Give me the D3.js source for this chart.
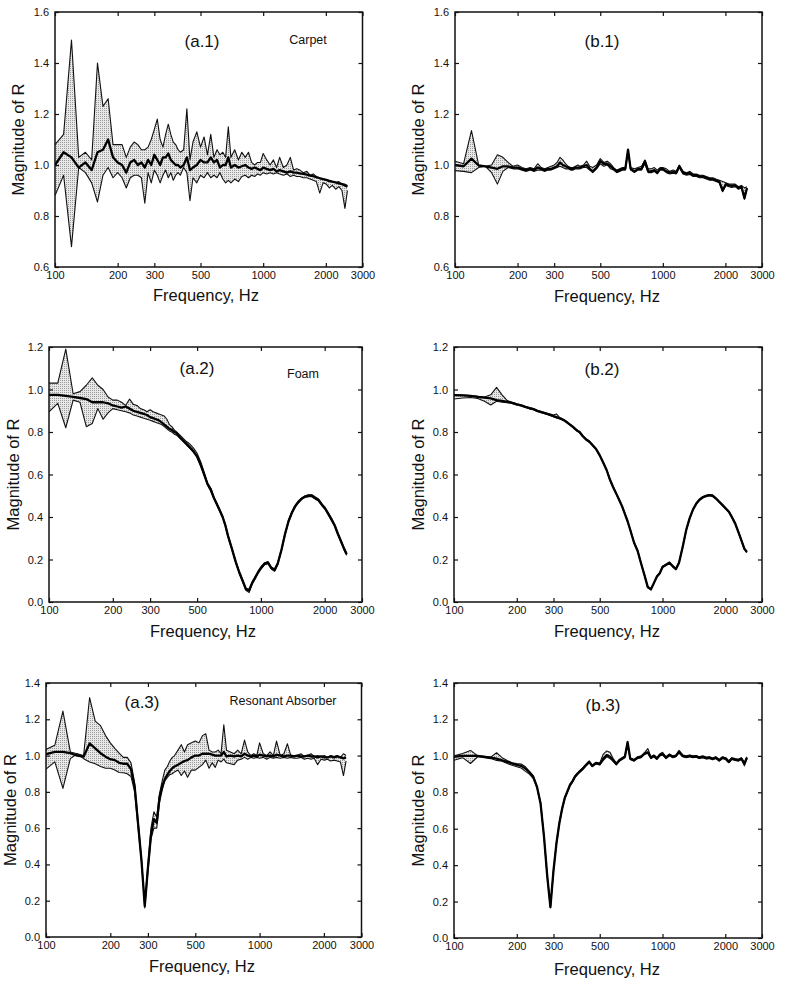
<!DOCTYPE html>
<html>
<head>
<meta charset="utf-8">
<script src="https://cdn.jsdelivr.net/npm/d3@7"></script>
<style>
  html, body { margin: 0; padding: 0; background: #ffffff; }
  svg { display: block; }
  text { font-family: "Liberation Sans", Arial, Helvetica, sans-serif; fill: #111; }
</style>
</head>
<body>
<svg id="chart" width="792" height="987"></svg>
<script>
// ---------------- DATA ----------------
const freq = [100,110,120,130,140,150,160,170,180,190,
  200,210,220,230,240,250,260,270,280,290,
  300,310,320,330,340,350,360,370,380,390,
  400,415,430,445,460,480,500,520,540,560,
  580,600,620,640,660,680,700,730,760,790,
  820,850,880,910,940,970,1000,1040,1080,1120,
  1160,1200,1250,1300,1350,1400,1450,1500,1560,1620,
  1680,1740,1800,1870,1940,2010,2080,2150,2230,2310,
  2390,2470,2540];

const xTickValues = [100, 200, 300, 500, 1000, 2000, 3000];
const yTicksRow1 = [0.6, 0.8, 1.0, 1.2, 1.4, 1.6];
const yTicksRow2 = [0.0, 0.2, 0.4, 0.6, 0.8, 1.0, 1.2];
const yTicksRow3 = [0.0, 0.2, 0.4, 0.6, 0.8, 1.0, 1.2, 1.4];

// (a.1) Carpet
const a1Upper = [1.08,1.12,1.49,1.03,1.05,1.02,1.40,1.23,1.26,1.08,
  1.08,1.08,1.03,1.07,1.09,1.08,1.06,1.06,1.07,1.10,
  1.14,1.18,1.10,1.07,1.12,1.16,1.12,1.09,1.08,1.06,
  1.05,1.06,1.22,1.02,1.09,1.13,1.07,1.11,1.04,1.12,
  1.03,1.06,1.04,1.05,1.03,1.15,1.03,1.06,1.02,1.05,
  1.03,1.05,1.01,1.00,1.01,1.01,1.045,1.02,1.00,1.02,
  0.99,1.03,0.99,1.00,1.03,0.98,0.985,0.98,0.97,0.975,
  0.96,0.965,0.955,0.95,0.945,0.94,0.935,0.935,0.93,0.935,
  0.925,0.925,0.92];
const a1Mean = [1.00,1.05,1.03,0.99,1.01,0.98,1.05,1.06,1.10,1.03,
  1.01,1.00,0.97,1.01,1.02,1.00,1.01,0.99,1.02,1.00,
  1.04,1.02,1.00,1.03,1.03,1.045,1.02,1.01,1.00,1.00,
  0.99,1.00,1.03,0.98,0.99,1.00,1.02,1.01,1.01,1.03,
  1.01,1.02,0.99,1.00,1.00,1.03,0.99,1.00,0.99,0.995,
  1.00,0.99,0.985,0.99,0.985,0.98,0.99,0.985,0.98,0.985,
  0.975,0.98,0.975,0.97,0.975,0.97,0.97,0.967,0.965,0.962,
  0.958,0.956,0.952,0.948,0.945,0.942,0.938,0.935,0.932,0.928,
  0.925,0.92,0.915];
const a1Lower = [0.88,0.96,0.68,0.99,0.97,0.93,0.855,0.96,0.99,0.95,
  0.97,0.95,0.91,0.95,0.96,0.96,0.95,0.85,0.97,0.93,
  0.98,0.96,0.93,0.96,0.98,0.95,0.97,0.94,0.96,0.97,
  0.96,0.99,0.97,0.86,0.95,0.93,0.96,0.95,0.97,0.95,
  0.96,0.95,0.97,0.945,0.93,0.94,0.93,0.945,0.935,0.955,
  0.96,0.95,0.96,0.955,0.965,0.96,0.97,0.965,0.97,0.965,
  0.97,0.965,0.96,0.965,0.955,0.96,0.955,0.955,0.95,0.95,
  0.945,0.94,0.935,0.89,0.93,0.925,0.91,0.92,0.905,0.915,
  0.90,0.83,0.90];

// (b.1)
const b1Upper = [1.015,1.005,1.135,1.00,0.995,1.00,1.04,1.03,1.01,0.995,
  1.00,0.99,0.985,0.99,0.985,1.005,0.99,0.985,0.99,0.995,
  1.00,1.01,1.03,1.02,1.005,0.995,0.99,0.99,0.995,1.00,
  0.995,1.00,1.015,0.995,0.99,1.00,1.025,1.01,1.015,1.005,
  0.99,0.98,0.985,0.99,0.99,1.06,0.99,0.985,0.99,0.995,
  1.02,0.985,0.985,0.99,0.98,0.99,0.99,0.985,0.975,0.98,
  0.975,1.00,0.975,0.97,0.975,0.965,0.965,0.96,0.96,0.955,
  0.95,0.95,0.945,0.94,0.935,0.93,0.925,0.925,0.925,0.915,
  0.92,0.91,0.915];
const b1Mean = [1.00,0.995,1.025,0.998,0.995,0.99,0.985,0.995,0.995,0.99,
  0.99,0.985,0.98,0.985,0.98,0.99,0.985,0.98,0.985,0.985,
  0.99,0.995,1.01,1.00,0.995,0.99,0.985,0.985,0.99,0.99,
  0.99,0.995,1.00,0.985,0.975,0.99,1.015,1.005,1.005,0.995,
  0.985,0.975,0.98,0.985,0.985,1.06,0.985,0.975,0.985,0.985,
  1.015,0.975,0.975,0.98,0.97,0.985,0.985,0.975,0.97,0.972,
  0.97,0.995,0.97,0.965,0.968,0.96,0.96,0.955,0.955,0.95,
  0.945,0.945,0.94,0.935,0.90,0.925,0.92,0.918,0.92,0.91,
  0.915,0.87,0.91];
const b1Lower = [0.978,0.975,0.97,0.99,0.995,0.97,0.925,0.975,0.99,0.985,
  0.985,0.98,0.975,0.98,0.975,0.98,0.98,0.975,0.98,0.98,
  0.985,0.99,0.995,0.99,0.985,0.985,0.98,0.98,0.985,0.985,
  0.985,0.99,0.99,0.98,0.97,0.985,1.005,0.995,1.00,0.985,
  0.98,0.97,0.975,0.98,0.98,1.05,0.98,0.97,0.98,0.98,
  1.005,0.97,0.97,0.975,0.965,0.98,0.98,0.97,0.965,0.968,
  0.965,0.99,0.965,0.96,0.963,0.955,0.955,0.95,0.95,0.945,
  0.94,0.94,0.935,0.93,0.895,0.92,0.915,0.912,0.915,0.905,
  0.91,0.865,0.905];

// (a.2) Foam
const a2Upper = [1.03,1.03,1.19,0.98,0.99,1.02,1.055,1.02,1.00,0.965,
  0.95,0.95,0.94,0.925,0.955,0.93,0.925,0.91,0.905,0.895,
  0.905,0.895,0.89,0.885,0.88,0.875,0.86,0.835,0.825,0.81,
  0.80,0.785,0.77,0.755,0.745,0.725,0.70,0.66,0.61,0.56,
  0.535,0.495,0.465,0.435,0.405,0.365,0.315,0.255,0.195,0.145,
  0.105,0.065,0.06,0.095,0.12,0.145,0.165,0.185,0.19,0.165,
  0.155,0.185,0.25,0.325,0.385,0.425,0.455,0.475,0.49,0.50,
  0.505,0.505,0.495,0.485,0.462,0.445,0.42,0.395,0.365,0.325,
  0.29,0.255,0.23];
const a2Mean = [0.975,0.975,0.97,0.965,0.96,0.955,0.94,0.94,0.94,0.935,
  0.925,0.92,0.915,0.92,0.91,0.90,0.895,0.89,0.885,0.88,
  0.87,0.865,0.86,0.855,0.845,0.835,0.825,0.815,0.81,0.80,
  0.795,0.775,0.76,0.745,0.73,0.71,0.685,0.645,0.60,0.555,
  0.53,0.49,0.46,0.43,0.40,0.36,0.31,0.25,0.19,0.14,
  0.10,0.06,0.055,0.09,0.115,0.14,0.16,0.18,0.185,0.16,
  0.15,0.18,0.245,0.32,0.38,0.42,0.45,0.47,0.487,0.497,
  0.50,0.50,0.49,0.48,0.458,0.44,0.415,0.39,0.36,0.32,
  0.285,0.25,0.225];
const a2Lower = [0.895,0.935,0.82,0.95,0.94,0.825,0.84,0.91,0.86,0.89,
  0.91,0.905,0.90,0.895,0.89,0.88,0.875,0.87,0.865,0.86,
  0.855,0.85,0.845,0.84,0.835,0.825,0.815,0.805,0.80,0.79,
  0.785,0.77,0.755,0.74,0.725,0.705,0.68,0.64,0.595,0.55,
  0.52,0.485,0.455,0.425,0.395,0.355,0.305,0.245,0.185,0.135,
  0.095,0.055,0.045,0.085,0.11,0.135,0.155,0.175,0.18,0.155,
  0.145,0.175,0.24,0.315,0.375,0.415,0.445,0.465,0.483,0.493,
  0.495,0.495,0.485,0.475,0.453,0.435,0.41,0.385,0.355,0.315,
  0.28,0.245,0.22];

// (b.2)
const b2Upper = [0.975,0.974,0.972,0.968,0.965,0.975,1.01,0.975,0.948,0.94,
  0.933,0.927,0.92,0.915,0.91,0.903,0.898,0.893,0.888,0.884,
  0.88,0.885,0.87,0.862,0.855,0.846,0.837,0.828,0.818,0.808,
  0.802,0.783,0.768,0.758,0.743,0.723,0.693,0.658,0.623,0.578,
  0.543,0.513,0.483,0.453,0.418,0.383,0.343,0.283,0.243,0.183,
  0.128,0.073,0.063,0.093,0.123,0.138,0.168,0.178,0.188,0.171,
  0.158,0.188,0.263,0.343,0.398,0.438,0.465,0.483,0.496,0.502,
  0.506,0.503,0.491,0.475,0.459,0.443,0.428,0.403,0.373,0.333,
  0.293,0.253,0.238];
const b2Mean = [0.974,0.972,0.97,0.965,0.962,0.958,0.95,0.946,0.942,0.937,
  0.93,0.925,0.918,0.912,0.908,0.90,0.895,0.89,0.885,0.88,
  0.875,0.87,0.865,0.86,0.853,0.844,0.835,0.826,0.816,0.806,
  0.80,0.78,0.765,0.755,0.74,0.72,0.69,0.655,0.62,0.575,
  0.54,0.51,0.48,0.45,0.415,0.38,0.34,0.28,0.24,0.18,
  0.125,0.07,0.06,0.09,0.12,0.135,0.165,0.175,0.185,0.168,
  0.155,0.185,0.26,0.34,0.395,0.435,0.462,0.48,0.493,0.499,
  0.503,0.50,0.488,0.472,0.456,0.44,0.425,0.40,0.37,0.33,
  0.29,0.25,0.235];
const b2Lower = [0.955,0.96,0.962,0.958,0.945,0.927,0.945,0.94,0.938,0.934,
  0.927,0.922,0.915,0.909,0.905,0.897,0.892,0.887,0.882,0.877,
  0.872,0.866,0.862,0.857,0.85,0.841,0.832,0.823,0.813,0.803,
  0.797,0.777,0.762,0.752,0.737,0.717,0.687,0.652,0.617,0.572,
  0.537,0.507,0.477,0.447,0.412,0.377,0.337,0.277,0.237,0.177,
  0.122,0.067,0.057,0.087,0.117,0.132,0.162,0.172,0.182,0.165,
  0.152,0.182,0.257,0.337,0.392,0.432,0.459,0.477,0.49,0.496,
  0.50,0.497,0.485,0.469,0.453,0.437,0.422,0.397,0.367,0.327,
  0.287,0.247,0.232];

// (a.3) Resonant Absorber
const a3Upper = [1.034,1.057,1.245,1.02,1.01,1.00,1.32,1.19,1.165,1.11,
  1.07,1.04,1.013,0.99,0.99,0.96,0.85,0.64,0.43,0.18,
  0.40,0.60,0.69,0.66,0.79,0.86,0.92,0.94,0.97,0.99,
  1.00,1.03,1.06,1.02,1.06,1.07,1.08,1.07,1.11,1.12,
  1.03,1.02,1.02,1.03,1.01,1.17,1.03,1.02,1.01,1.03,
  1.01,1.085,1.02,1.00,1.01,1.00,1.07,1.01,1.00,1.02,
  1.00,1.08,1.00,1.01,1.065,1.00,1.00,1.00,1.01,0.995,
  1.00,1.01,0.995,1.00,0.995,1.00,0.99,1.00,0.995,1.00,
  0.99,1.01,1.00];
const a3Mean = [1.008,1.02,1.02,1.013,1.00,0.994,1.067,1.04,1.013,0.994,
  0.98,0.975,0.96,0.955,0.955,0.925,0.83,0.62,0.42,0.17,
  0.38,0.56,0.65,0.63,0.77,0.83,0.87,0.895,0.915,0.93,
  0.94,0.95,0.96,0.97,0.975,0.99,1.00,1.00,1.01,1.01,
  1.01,1.005,1.00,1.00,1.00,1.02,0.995,1.00,0.995,1.00,
  0.995,1.01,1.00,0.995,1.00,0.995,1.005,1.00,0.995,1.00,
  0.995,1.005,1.00,0.995,1.00,1.00,0.995,1.00,0.995,0.995,
  1.00,0.995,0.995,0.99,0.995,0.99,0.99,0.995,0.99,0.995,
  0.99,0.985,0.99];
const a3Lower = [0.925,0.965,0.819,0.983,1.01,0.983,0.965,0.955,0.94,0.93,
  0.93,0.92,0.907,0.905,0.90,0.885,0.80,0.60,0.41,0.16,
  0.36,0.54,0.60,0.60,0.74,0.81,0.86,0.88,0.895,0.90,
  0.91,0.92,0.89,0.915,0.88,0.92,0.92,0.935,0.95,0.975,
  0.93,0.96,0.935,0.975,0.965,0.98,0.96,0.955,0.95,0.975,
  0.98,0.99,0.98,0.99,0.985,0.99,0.985,0.99,0.98,0.99,
  0.985,0.99,0.985,0.99,0.985,0.99,0.985,0.985,0.99,0.98,
  0.985,0.98,0.985,0.95,0.98,0.975,0.98,0.97,0.975,0.97,
  0.965,0.89,0.97];

// (b.3)
const b3Upper = [1.00,1.013,1.03,1.00,0.998,0.993,1.017,0.99,0.975,0.962,
  0.958,0.955,0.94,0.915,0.89,0.835,0.745,0.565,0.345,0.175,
  0.375,0.525,0.635,0.715,0.775,0.81,0.845,0.865,0.89,0.905,
  0.918,0.935,0.955,0.972,0.95,0.965,0.96,1.01,1.027,1.02,
  0.985,0.96,0.98,0.99,1.00,1.08,0.99,0.98,0.995,1.00,
  1.018,1.04,0.995,1.005,0.99,1.01,1.02,0.995,1.01,1.00,
  1.005,1.03,1.005,1.00,1.005,1.00,1.002,0.995,1.00,0.993,
  0.995,0.988,0.995,0.981,0.995,0.99,0.972,0.99,0.985,0.981,
  0.99,0.962,0.995];
const b3Mean = [0.995,1.00,1.00,1.00,0.995,0.99,0.985,0.976,0.967,0.958,
  0.95,0.945,0.93,0.91,0.885,0.83,0.74,0.56,0.34,0.17,
  0.37,0.52,0.63,0.71,0.77,0.805,0.84,0.86,0.885,0.90,
  0.913,0.93,0.95,0.967,0.945,0.96,0.955,0.985,1.004,0.995,
  0.976,0.955,0.975,0.985,0.995,1.075,0.985,0.976,0.99,0.995,
  1.013,1.02,0.99,1.00,0.985,1.005,1.01,0.99,1.005,0.995,
  1.00,1.022,1.00,0.995,1.00,0.995,0.997,0.99,0.995,0.988,
  0.99,0.983,0.99,0.976,0.99,0.985,0.967,0.985,0.98,0.976,
  0.985,0.958,0.99];
const b3Lower = [0.976,0.99,0.958,0.995,0.99,0.985,0.975,0.97,0.958,0.948,
  0.94,0.933,0.915,0.90,0.875,0.825,0.735,0.555,0.335,0.165,
  0.365,0.515,0.625,0.705,0.765,0.80,0.835,0.855,0.88,0.895,
  0.908,0.925,0.945,0.962,0.94,0.955,0.95,0.975,0.995,0.985,
  0.97,0.95,0.97,0.98,0.99,1.065,0.98,0.971,0.985,0.99,
  1.008,1.015,0.985,0.995,0.98,1.00,1.005,0.985,1.00,0.99,
  0.995,1.017,0.995,0.99,0.995,0.99,0.992,0.985,0.99,0.983,
  0.985,0.978,0.985,0.971,0.985,0.98,0.962,0.98,0.975,0.971,
  0.98,0.945,0.985];

// ---------------- LAYOUT ----------------
const panels = [
  { label: "(a.1)", note: "Carpet", upper: a1Upper, mean: a1Mean, lower: a1Lower,
    yDomain: [0.6, 1.6], yTicks: yTicksRow1,
    box: { x0: 55, x1: 362.5, y0: 12, y1: 267 },
    labelPos: [202, 47], notePos: [308, 44], xTitlePos: [206, 301], yTitleX: 18 },
  { label: "(b.1)", note: "", upper: b1Upper, mean: b1Mean, lower: b1Lower,
    yDomain: [0.6, 1.6], yTicks: yTicksRow1,
    box: { x0: 455, x1: 762, y0: 12, y1: 267 },
    labelPos: [602, 47], notePos: null, xTitlePos: [607, 302], yTitleX: 418 },
  { label: "(a.2)", note: "Foam", upper: a2Upper, mean: a2Mean, lower: a2Lower,
    yDomain: [0.0, 1.2], yTicks: yTicksRow2,
    box: { x0: 49, x1: 362, y0: 347, y1: 602 },
    labelPos: [197, 374], notePos: [303, 378], xTitlePos: [203, 637], yTitleX: 13 },
  { label: "(b.2)", note: "", upper: b2Upper, mean: b2Mean, lower: b2Lower,
    yDomain: [0.0, 1.2], yTicks: yTicksRow2,
    box: { x0: 454, x1: 762, y0: 347, y1: 602 },
    labelPos: [602, 375], notePos: null, xTitlePos: [607, 637], yTitleX: 418 },
  { label: "(a.3)", note: "Resonant Absorber", upper: a3Upper, mean: a3Mean, lower: a3Lower,
    yDomain: [0.0, 1.4], yTicks: yTicksRow3,
    box: { x0: 46, x1: 361.5, y0: 683, y1: 937 },
    labelPos: [142, 708], notePos: [283, 705], xTitlePos: [202, 972], yTitleX: 10 },
  { label: "(b.3)", note: "", upper: b3Upper, mean: b3Mean, lower: b3Lower,
    yDomain: [0.0, 1.4], yTicks: yTicksRow3,
    box: { x0: 454, x1: 762, y0: 683, y1: 938 },
    labelPos: [603, 711], notePos: null, xTitlePos: [607, 975], yTitleX: 418 }
];

const svg = d3.select("#chart");

// stipple pattern for the band between lower and upper curves
const defs = svg.append("defs");
const pat = defs.append("pattern").attr("id", "stipple")
  .attr("patternUnits", "userSpaceOnUse").attr("width", 2).attr("height", 2);
pat.append("rect").attr("width", 2).attr("height", 2).attr("fill", "#e8e8e8");
pat.append("rect").attr("width", 1).attr("height", 1).attr("fill", "#9a9a9a");

panels.forEach(p => {
  const b = p.box;
  const x = d3.scaleLog().domain([100, 3000]).range([b.x0, b.x1]);
  const y = d3.scaleLinear().domain(p.yDomain).range([b.y1, b.y0]);
  const g = svg.append("g");

  const n = Math.min(freq.length, p.upper.length, p.mean.length, p.lower.length);
  const rows = d3.range(n).map(i => ({ f: freq[i], u: p.upper[i], m: p.mean[i], l: p.lower[i] }));

  const clipId = "clip" + p.label.replace(/[^a-z0-9]/gi, "");
  defs.append("clipPath").attr("id", clipId)
    .append("rect").attr("x", b.x0).attr("y", b.y0 - 2)
    .attr("width", b.x1 - b.x0).attr("height", b.y1 - b.y0 + 2);

  const plot = g.append("g").attr("clip-path", `url(#${clipId})`);

  plot.append("path").datum(rows)
    .attr("d", d3.area().x(d => x(d.f)).y0(d => y(d.l)).y1(d => y(d.u)))
    .attr("fill", "url(#stipple)").attr("stroke", "none");

  const thin = key => d3.line().x(d => x(d.f)).y(d => y(d[key]));
  plot.append("path").datum(rows).attr("d", thin("u"))
    .attr("fill", "none").attr("stroke", "#111").attr("stroke-width", 1.1).attr("stroke-linejoin", "round");
  plot.append("path").datum(rows).attr("d", thin("l"))
    .attr("fill", "none").attr("stroke", "#111").attr("stroke-width", 1.1).attr("stroke-linejoin", "round");
  plot.append("path").datum(rows).attr("d", thin("m"))
    .attr("fill", "none").attr("stroke", "#000").attr("stroke-width", 2.3).attr("stroke-linejoin", "round");

  // axes with inward ticks
  const fmtY = d3.format(".1f");
  const left = g.append("g").attr("transform", `translate(${b.x0},0)`)
    .call(d3.axisLeft(y).tickValues(p.yTicks).tickFormat(fmtY).tickSizeInner(-4).tickSizeOuter(0).tickPadding(6));
  const right = g.append("g").attr("transform", `translate(${b.x1},0)`)
    .call(d3.axisRight(y).tickValues(p.yTicks).tickFormat("").tickSizeInner(-4).tickSizeOuter(0));
  const bottom = g.append("g").attr("transform", `translate(0,${b.y1})`)
    .call(d3.axisBottom(x).tickValues(xTickValues).tickFormat(d3.format("d")).tickSizeInner(-4).tickSizeOuter(0).tickPadding(4));
  const top = g.append("g").attr("transform", `translate(0,${b.y0})`)
    .call(d3.axisTop(x).tickValues(xTickValues).tickFormat("").tickSizeInner(-4).tickSizeOuter(0));
  [left, right, bottom, top].forEach(a => {
    a.select(".domain").remove();
    a.selectAll(".tick line").attr("stroke", "#111").attr("stroke-width", 1.2);
    a.selectAll(".tick text").attr("font-size", 11).attr("fill", "#111")
      .attr("font-family", "'Liberation Sans', Arial, Helvetica, sans-serif");
  });

  // frame
  g.append("rect").attr("x", b.x0).attr("y", b.y0)
    .attr("width", b.x1 - b.x0).attr("height", b.y1 - b.y0)
    .attr("fill", "none").attr("stroke", "#111").attr("stroke-width", 1.5);

  // titles
  g.append("text").attr("x", p.xTitlePos[0]).attr("y", p.xTitlePos[1])
    .attr("text-anchor", "middle").attr("font-size", 16.5).text("Frequency, Hz");
  const cy = (b.y0 + b.y1) / 2;
  g.append("text").attr("transform", `translate(${p.yTitleX + 6},${cy}) rotate(-90)`)
    .attr("text-anchor", "middle").attr("font-size", 16.5).text("Magnitude of R");

  g.append("text").attr("x", p.labelPos[0]).attr("y", p.labelPos[1])
    .attr("text-anchor", "middle").attr("font-size", 17).text(p.label);
  if (p.notePos) {
    g.append("text").attr("x", p.notePos[0]).attr("y", p.notePos[1])
      .attr("text-anchor", "middle").attr("font-size", 12.5).text(p.note);
  }
});
</script>
</body>
</html>
